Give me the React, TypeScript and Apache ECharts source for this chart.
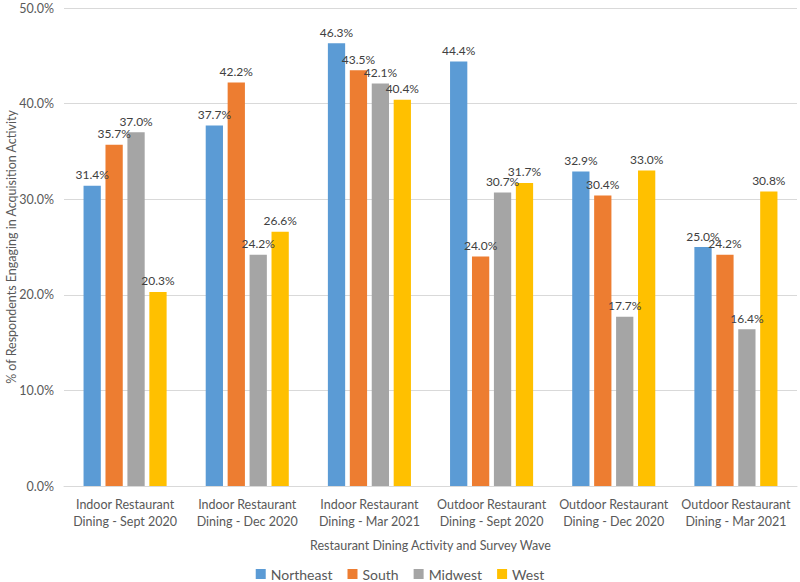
import React, { useEffect, useRef } from "react";
import * as echarts from "echarts";

const categories = [
  "Indoor Restaurant\nDining - Sept 2020",
  "Indoor Restaurant\nDining - Dec 2020",
  "Indoor Restaurant\nDining - Mar 2021",
  "Outdoor Restaurant\nDining - Sept 2020",
  "Outdoor Restaurant\nDining - Dec 2020",
  "Outdoor Restaurant\nDining - Mar 2021",
];
const northeast = [31.4, 37.7, 46.3, 44.4, 32.9, 25.0];
const south = [35.7, 42.2, 43.5, 24.0, 30.4, 24.2];
const midwest = [37.0, 24.2, 42.1, 30.7, 17.7, 16.4];
const west = [20.3, 26.6, 40.4, 31.7, 33.0, 30.8];

const seriesNames = ["Northeast", "South", "Midwest", "West"];
const colors = ["#5B9BD5", "#ED7D31", "#A5A5A5", "#FFC000"];
const FONT = "Lato, 'Open Sans', sans-serif";

export default function App() {
  const ref = useRef<HTMLDivElement>(null);
  useEffect(() => {
    if (!ref.current) return;
    const chart = echarts.init(ref.current, undefined, { renderer: "svg" });
    const data = [northeast, south, midwest, west];
    chart.setOption({
      animation: false,
      backgroundColor: "#ffffff",
      textStyle: { fontFamily: FONT, color: "#595959" },
      grid: {
        left: 64,
        right: 3,
        top: 8,
        bottom: 96,
        containLabel: false,
        outerBoundsMode: "none",
      },
      legend: {
        top: 566,
        left: "center",
        padding: 0,
        itemWidth: 10,
        itemHeight: 10,
        itemGap: 15,
        icon: "rect",
        textStyle: { fontFamily: FONT, fontSize: 14, lineHeight: 16, color: "#595959" },
        data: seriesNames,
      },
      xAxis: {
        type: "category",
        data: categories,
        name: "Restaurant Dining Activity and Survey Wave",
        nameLocation: "middle",
        nameGap: 53,
        nameMoveOverlap: false,
        nameTextStyle: { fontFamily: FONT, fontSize: 12.5, color: "#595959" },
        axisLine: { lineStyle: { color: "#D9D9D9" } },
        axisTick: { show: false },
        axisLabel: {
          interval: 0,
          margin: 10,
          fontSize: 12.5,
          lineHeight: 17,
          color: "#595959",
          fontFamily: FONT,
        },
      },
      yAxis: {
        type: "value",
        min: 0,
        max: 50,
        interval: 10,
        name: "% of Respondents Engaging in Acquisition Activity",
        nameLocation: "middle",
        nameGap: 46,
        nameMoveOverlap: false,
        nameTextStyle: { fontFamily: FONT, fontSize: 12.5, color: "#595959" },
        axisLabel: {
          formatter: (v: number) => v.toFixed(1) + "%",
          fontSize: 12.5,
          color: "#595959",
          fontFamily: FONT,
          margin: 10,
        },
        splitLine: { lineStyle: { color: "#D9D9D9" } },
        axisLine: { show: false },
        axisTick: { show: false },
      },
      series: seriesNames.map((n, i) => ({
        name: n,
        type: "bar",
        data: data[i],
        itemStyle: { color: colors[i] },
        barGap: "27%",
        barCategoryGap: "32%",
        label: {
          show: true,
          position: "top",
          distance: 5,
          formatter: (p: any) => p.value.toFixed(1) + "%",
          fontSize: 12,
          color: "#404040",
          fontFamily: FONT,
        },
      })),
    });
    return () => chart.dispose();
  }, []);
  return (
    <div
      ref={ref}
      style={{ position: "fixed", left: 0, top: 0, width: 800, height: 582 }}
    />
  );
}
